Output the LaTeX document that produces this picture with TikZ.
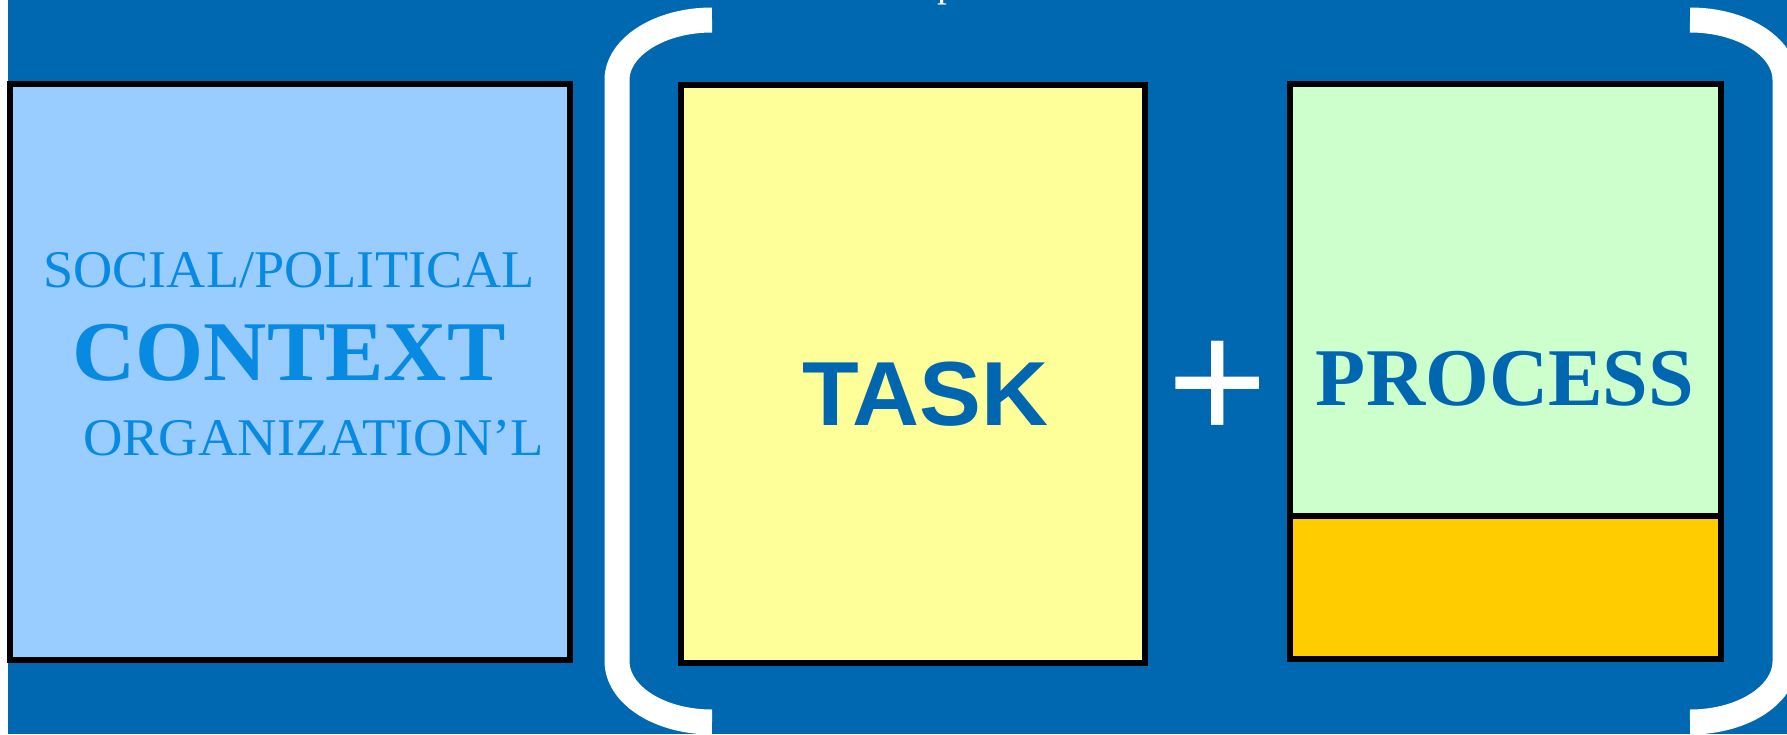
\documentclass[tikz,border=0pt]{standalone}
\usepackage{fontspec}
\setmainfont{Liberation Serif}
\newfontfamily\sansbold{Liberation Sans}
\definecolor{bgblue}{RGB}{0,104,176}
\definecolor{ctxfill}{RGB}{153,204,255}
\definecolor{taskfill}{RGB}{255,255,153}
\definecolor{procfill}{RGB}{204,255,204}
\definecolor{ambfill}{RGB}{255,204,0}
\definecolor{ctxtext}{RGB}{8,138,226}
\definecolor{headtext}{RGB}{0,102,176}
\tikzset{
  panel/.style={draw=black, line width=2.75pt, inner sep=0pt, outer sep=0pt},
  label/.style={inner sep=0pt, outer sep=0pt, anchor=base},
  smallcap/.style={label, text=ctxtext, font=\fontsize{26.5}{30}\selectfont},
  bracket/.style={draw=white, line width=12.5pt, line cap=butt},
}
\begin{document}
\begin{tikzpicture}[x=0.5pt,y=-0.5pt]
\useasboundingbox (0,0) rectangle (1787,734);
\fill[bgblue] (8,0) rectangle (1787,734);

% caption above the frame, running off the top edge
\begin{scope}
  \clip (0,0) rectangle (1787,734);
  \node[label, text=white, font=\fontsize{20}{24}\selectfont] (cap) at (947,-4) {p};
\end{scope}

% brackets around task + process
\draw[bracket] (712,20) .. controls (659.5,20) and (617,47) .. (617,80)
  -- (617,661) .. controls (617,695) and (659.5,722) .. (712,722);
\draw[bracket] (1690,20) .. controls (1742.5,20) and (1785,47) .. (1785,80)
  -- (1785,661) .. controls (1785,695) and (1742.5,722) .. (1690,722);

% panels
\node[panel, fill=ctxfill, minimum width=280pt, minimum height=288pt] (context) at (290,372) {};
\node[panel, fill=taskfill, minimum width=232pt, minimum height=289pt] (task) at (913,374) {};
\node[panel, fill=procfill, minimum width=215.5pt, minimum height=216pt] (process) at (1505.5,300) {};
\node[panel, fill=ambfill, minimum width=215.5pt, minimum height=71.5pt] (base) at (1505.5,587.5) {};

% context labels
\node[smallcap] (social) at (289,287) {\scalebox{1.025}[1]{SOCIAL/POLITICAL}};
\node[label, text=ctxtext, font=\fontsize{42.5}{48}\selectfont\bfseries] (ctx) at (289,380) {\scalebox{1.03}[1]{CONTEXT}};
\node[smallcap] (org) at (313.5,455) {\scalebox{1.03}[1]{ORGANIZATION’L}};

% task and process labels
\node[label, text=headtext, font=\sansbold\fontsize{45.5}{50}\selectfont\bfseries] (tasklbl) at (925.5,425) {\scalebox{1.02}[1]{TASK}};
\node[label, text=white, font=\sansbold\fontsize{86}{90}\selectfont] (plus) at (1217.5,440) {+};
\node[label, text=headtext, font=\fontsize{41}{46}\selectfont\bfseries] (proclbl) at (1505,405) {PROCESS};
\end{tikzpicture}
\end{document}
